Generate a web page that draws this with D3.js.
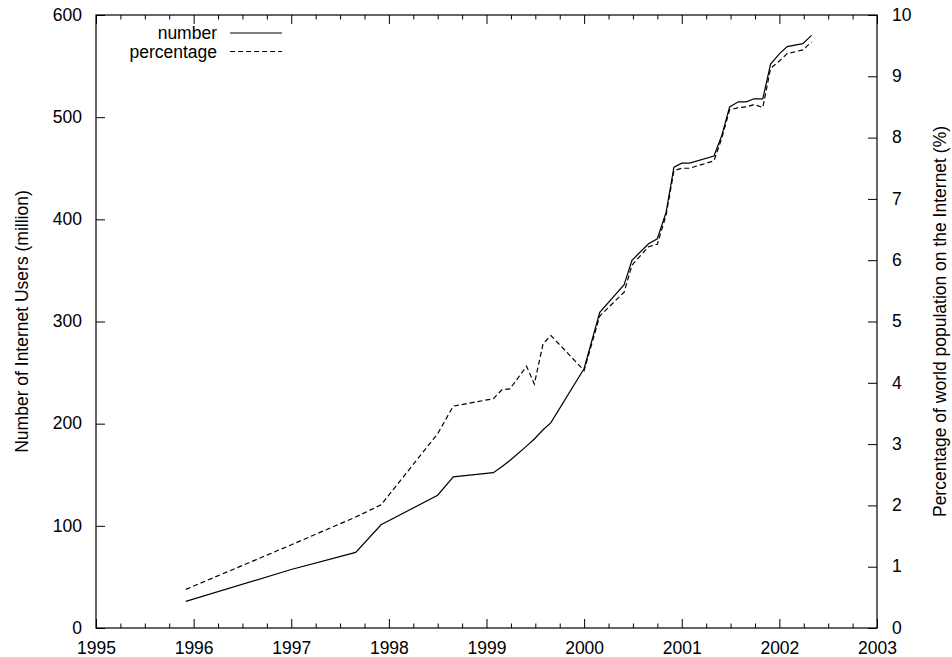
<!DOCTYPE html>
<html>
<head>
<meta charset="utf-8">
<script src="https://cdn.jsdelivr.net/npm/d3@7"></script>
<style>
  body { margin: 0; background: #fff; }
  text { font-family: "Liberation Sans", Arial, sans-serif; fill: #000; }
</style>
</head>
<body>
<div id="chart"></div>
<script>
// survey dates (decimal years), shared by both series
const dates = [1995.92, 1996.99, 1997.66, 1997.92, 1998.5, 1998.66, 1999.07, 1999.16, 1999.24,
  1999.41, 1999.49, 1999.58, 1999.66, 2000.0, 2000.16, 2000.41, 2000.49, 2000.66, 2000.75,
  2000.84, 2000.92, 2001.0, 2001.08, 2001.33, 2001.41, 2001.49, 2001.58, 2001.66, 2001.74,
  2001.83, 2001.91, 2002.0, 2002.08, 2002.24, 2002.33];

// number of internet users, million
const users = [26, 57, 74, 101, 130, 148, 152, 158, 164, 178, 185, 194, 201, 254, 309, 336,
  360, 376, 381, 407, 451, 455, 455, 462, 482, 510, 515, 515, 518, 518, 552, 562, 569, 572, 580];

// percentage of world population
const percent = [0.63, 1.35, 1.81, 2.01, 3.17, 3.62, 3.74, 3.89, 3.90, 4.27, 3.98, 4.64, 4.77,
  4.2, 5.09, 5.48, 5.92, 6.22, 6.26, 6.74, 7.46, 7.50, 7.50, 7.62, 7.99, 8.45, 8.49, 8.50,
  8.54, 8.49, 9.13, 9.25, 9.37, 9.43, 9.56];

const yearTicks = [1995, 1996, 1997, 1998, 1999, 2000, 2001, 2002, 2003];
const leftTicks = [0, 100, 200, 300, 400, 500, 600];
const rightTicks = [0, 1, 2, 3, 4, 5, 6, 7, 8, 9, 10];

const legendNames = ["number", "percentage"];

const width = 952, height = 657;
const margin = { top: 15, right: 75, bottom: 29, left: 96 };
const w = width - margin.left - margin.right;
const h = height - margin.top - margin.bottom;
const fontSize = 17.5;

const svg = d3.select("#chart").append("svg")
  .attr("width", width)
  .attr("height", height);

const g = svg.append("g")
  .attr("transform", "translate(" + margin.left + "," + margin.top + ")");

const x = d3.scaleLinear().domain([1995, 2003]).range([0, w]);
const yL = d3.scaleLinear().domain([0, 600]).range([h, 0]);
const yR = d3.scaleLinear().domain([0, 10]).range([h, 0]);

// quarter-year minor ticks
const minorTicks = d3.range(1995, 2003.01, 0.25).filter(t => !yearTicks.includes(t));

const styleAxis = (sel) => {
  sel.select(".domain").remove();
  sel.selectAll("line").attr("stroke", "#000").attr("stroke-width", 1);
  sel.selectAll("text").style("font-size", fontSize + "px").attr("fill", "#000");
};

// bottom axis: major ticks inside, labels a bit lower so they clear the y labels
g.append("g")
  .attr("transform", "translate(0," + h + ")")
  .call(d3.axisBottom(x).tickValues(yearTicks).tickFormat(d3.format("d"))
    .tickSizeInner(-9).tickSizeOuter(0).tickPadding(6))
  .call(styleAxis)
  .selectAll("text").attr("dy", 19.5);

// minor ticks bottom and top
g.append("g")
  .attr("transform", "translate(0," + h + ")")
  .call(d3.axisBottom(x).tickValues(minorTicks).tickFormat("").tickSizeInner(-4.5).tickSizeOuter(0))
  .call(styleAxis);
g.append("g")
  .call(d3.axisTop(x).tickValues(minorTicks).tickFormat("").tickSizeInner(-4.5).tickSizeOuter(0))
  .call(styleAxis);
g.append("g")
  .call(d3.axisTop(x).tickValues(yearTicks).tickFormat("").tickSizeInner(-9).tickSizeOuter(0))
  .call(styleAxis);

// left axis
g.append("g")
  .call(d3.axisLeft(yL).tickValues(leftTicks).tickFormat(d3.format("d"))
    .tickSizeInner(-9).tickSizeOuter(0).tickPadding(14))
  .call(styleAxis)
  .selectAll("text").attr("dy", "0.3em");

// right axis
g.append("g")
  .attr("transform", "translate(" + w + ",0)")
  .call(d3.axisRight(yR).tickValues(rightTicks).tickFormat(d3.format("d"))
    .tickSizeInner(-9).tickSizeOuter(0).tickPadding(15))
  .call(styleAxis)
  .selectAll("text").attr("dy", "0.3em");

// frame
g.append("rect")
  .attr("width", w).attr("height", h)
  .attr("fill", "none").attr("stroke", "#000").attr("stroke-width", 1.2);

// axis titles
svg.append("text")
  .attr("transform", "translate(22," + (margin.top + h / 2) + ") rotate(-90)")
  .attr("text-anchor", "middle")
  .attr("dy", "0.35em")
  .style("font-size", fontSize + "px")
  .text("Number of Internet Users (million)");

svg.append("text")
  .attr("transform", "translate(940," + (margin.top + h / 2) + ") rotate(-90)")
  .attr("text-anchor", "middle")
  .attr("dy", "0.35em")
  .style("font-size", fontSize + "px")
  .text("Percentage of world population on the Internet (%)");

// lines
const numLine = d3.line().x((d, i) => x(dates[i])).y(d => yL(d));
const pctLine = d3.line().x((d, i) => x(dates[i])).y(d => yR(d));

g.append("path")
  .datum(users)
  .attr("d", numLine)
  .attr("fill", "none").attr("stroke", "#000").attr("stroke-width", 1.2);

g.append("path")
  .datum(percent)
  .attr("d", pctLine)
  .attr("fill", "none").attr("stroke", "#000").attr("stroke-width", 1.2)
  .attr("stroke-dasharray", "5,3");

// legend, top-left
const legend = svg.append("g").attr("transform", "translate(217,33)");
legendNames.forEach((name, i) => {
  const row = legend.append("g").attr("transform", "translate(0," + (i * 18.5) + ")");
  row.append("text")
    .attr("text-anchor", "end")
    .attr("dy", "0.35em")
    .style("font-size", fontSize + "px")
    .text(name);
  row.append("line")
    .attr("x1", 13).attr("x2", 65)
    .attr("stroke", "#000").attr("stroke-width", 1.2)
    .attr("stroke-dasharray", i === 1 ? "5,3" : null);
});
</script>
</body>
</html>
